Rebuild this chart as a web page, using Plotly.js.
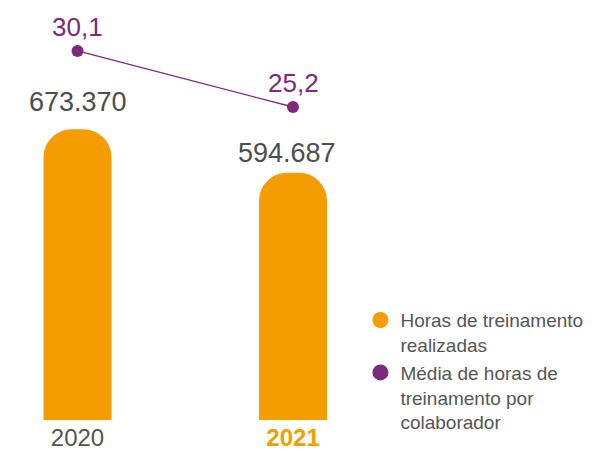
<!DOCTYPE html>
<html>
<head>
<meta charset="utf-8">
<script src="https://cdn.plot.ly/plotly-3.0.1.min.js"></script>
<style>
  html, body { margin: 0; padding: 0; background: #ffffff; }
  #chart { width: 601px; height: 452px; }
</style>
</head>
<body>
<div id="chart"></div>
<script>
const years = ['2020', '2021'];
const trainingHours = [673370, 594687];
const avgHoursPerEmployee = [30.1, 25.2];
const legendNames = ['Horas de treinamento<br>realizadas', 'Média de horas de<br>treinamento por<br>colaborador'];

const ORANGE = '#f59c00';
const PURPLE = '#7b2a7c';
const GREY = '#4d4d4d';
const FONT = 'Liberation Sans, Arial, sans-serif';

const fmtThousands = v => String(v).replace(/\B(?=(\d{3})+(?!\d))/g, '.');
const fmtDecimal = v => v.toFixed(1).replace('.', ',');

// years sit at positions 0, 1 on a linear x axis
const xPos = years.map((_, i) => i);

const bars = {
  x: xPos,
  y: trainingHours,
  type: 'bar',
  width: 0.3155,
  marker: { color: ORANGE, cornerradius: 28 },
  showlegend: false,
  hoverinfo: 'skip'
};

const line = {
  x: xPos,
  y: avgHoursPerEmployee,
  yaxis: 'y2',
  type: 'scatter',
  mode: 'lines+markers',
  line: { color: PURPLE, width: 1.3 },
  marker: { color: PURPLE, size: 12 },
  showlegend: false,
  hoverinfo: 'skip'
};

// legend-only entries with round symbols
const legendEntries = [ORANGE, PURPLE].map((c, i) => ({
  x: [null],
  y: [null],
  type: 'scatter',
  mode: 'markers',
  name: legendNames[i],
  marker: { color: c, size: 16, symbol: 'circle' }
}));

// value labels
const barShifts = [[0, 27], [-6, 20]];
const annotations = [];
xPos.forEach((x, i) => {
  annotations.push({
    x: x, y: trainingHours[i], xref: 'x', yref: 'y',
    text: fmtThousands(trainingHours[i]),
    showarrow: false,
    xshift: barShifts[i][0], yshift: barShifts[i][1],
    font: { family: FONT, size: 27, color: GREY }
  });
  annotations.push({
    x: x, y: avgHoursPerEmployee[i], xref: 'x', yref: 'y2',
    text: fmtDecimal(avgHoursPerEmployee[i]),
    showarrow: false,
    yshift: 24,
    font: { family: FONT, size: 26, color: PURPLE }
  });
});

const hiddenAxis = {
  showgrid: false,
  zeroline: false,
  showline: false,
  showticklabels: false,
  ticks: ''
};

const layout = {
  width: 601,
  height: 452,
  margin: { t: 0, b: 32, l: 0, r: 0 },
  paper_bgcolor: '#ffffff',
  plot_bgcolor: '#ffffff',
  font: { family: FONT, color: GREY },
  xaxis: {
    range: [-0.3596, 2.429],
    tickvals: xPos,
    ticktext: ['2020', '<span style="color:' + ORANGE + '"><b>2021</b></span>'],
    tickfont: { family: FONT, size: 24, color: '#555555' },
    ticklabelstandoff: 1,
    showgrid: false,
    zeroline: false,
    showline: false,
    ticks: ''
  },
  yaxis: Object.assign({ range: [146330, 907790] }, hiddenAxis),
  yaxis2: Object.assign({ range: [-2.18, 34.56], overlaying: 'y' }, hiddenAxis),
  legend: {
    x: 0.5997,
    y: 0.283,
    xanchor: 'left',
    yanchor: 'top',
    valign: 'top',
    bgcolor: 'rgba(0,0,0,0)',
    font: { family: FONT, size: 19, color: '#555555' },
    tracegroupgap: 0
  },
  annotations: annotations,
  showlegend: true
};

Plotly.newPlot('chart', [bars, line, ...legendEntries], layout, { displayModeBar: false, staticPlot: true });
</script>
</body>
</html>
